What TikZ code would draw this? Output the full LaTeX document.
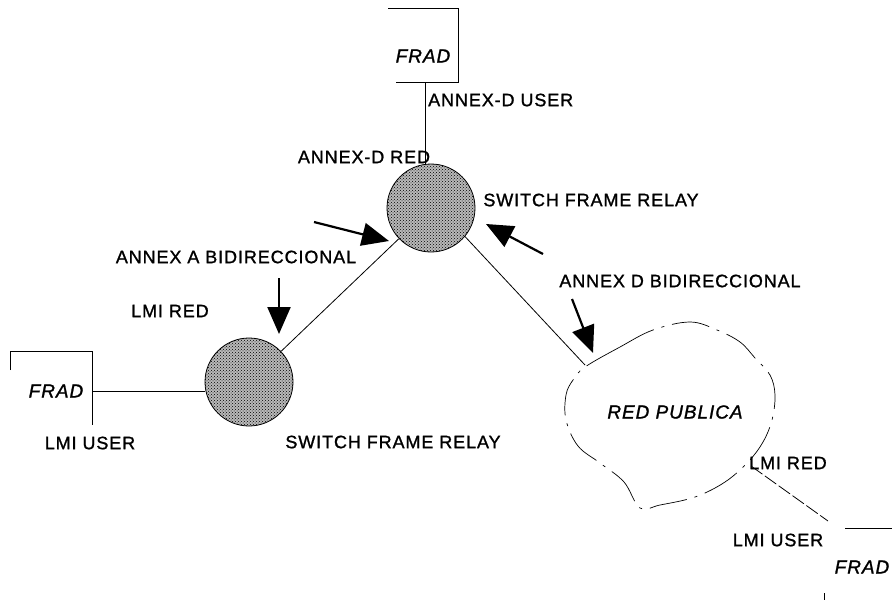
\documentclass[tikz,border=0pt]{standalone}
\usepackage{fontspec}
\setmainfont{Liberation Sans}[LetterSpace=5, FakeBold=1.2]
\usetikzlibrary{arrows.meta,patterns}
\tikzset{
  lbl/.style={font=\fontsize{18}{21}\selectfont, inner sep=0pt},
  fradtxt/.style={font=\fontsize{19}{22}\selectfont\itshape, inner sep=0pt},
  thin line/.style={line width=0.8pt},
  switchnode/.style={circle, draw, line width=0.8pt, minimum size=88pt, inner sep=0pt,
    preaction={fill=gray!55}, pattern=crosshatch dots},
  bigarrow/.style={line width=2.2pt, -{Triangle[length=27pt,width=23pt]}},
  cloudline/.style={line width=0.7pt, dash pattern=on 38pt off 8pt on 3pt off 8pt}
}
\begin{document}
\begin{tikzpicture}[x=1pt,y=-1pt]
\useasboundingbox (0,0) rectangle (892,600);

% switches
\node[switchnode] (sw1) at (431,208) {};
\node[switchnode] (sw2) at (249,382) {};

% FRAD at the top (left side left open)
\coordinate (ftTL) at (388,8);
\coordinate (ftTR) at (458,8);
\coordinate (ftBR) at (458,82);
\coordinate (ftBL) at (396,82);
\draw[thin line] (ftTL) -- (ftTR) -- (ftBR) -- (ftBL);
\node[fradtxt] (fradtop) at (423,56) {FRAD};
\coordinate (ftOut) at (425,82);

% FRAD on the left
\coordinate (flA) at (10,370);
\coordinate (flB) at (10,351);
\coordinate (flC) at (92,351);
\coordinate (flD) at (92,425);
\draw[thin line] (flA) -- (flB) -- (flC) -- (flD);
\node[fradtxt] (fradleft) at (56,391) {FRAD};
\coordinate (flOut) at (92,391);

% FRAD bottom right
\coordinate (frA) at (845,528);
\coordinate (frB) at (892,528);
\draw[thin line] (frA) -- (frB);
\draw[thin line] (824,593) -- (824,600);
\node[fradtxt] (fradright) at (862,567) {FRAD};
\coordinate (frIn) at (828,521);

% public network cloud
\draw[cloudline] plot[smooth cycle, tension=0.6] coordinates {
  (585,367) (620,347) (653,330) (690,322) (717,330) (740,342) (755,358)
  (770,375) (775,395) (772,420) (763,442) (748,462) (725,482) (695,497)
  (660,505) (640,508) (624,482) (600,463) (578,446) (566,420) (566,395)
  (573,380)};
\node[fradtxt] (redpub) at (675,412) {RED PUBLICA};
\coordinate (cloudIn) at (585,365);
\coordinate (cloudOut) at (751,466);

% links
\draw[thin line] (ftOut) -- (ftOut |- sw1.north);
\draw[thin line] (flOut) -- (sw2.west |- flOut);
\draw[thin line] (sw2) -- (sw1);
\draw[thin line] (sw1.-40) -- (cloudIn);
\draw[thin line, dash pattern=on 14pt off 3pt] (cloudOut) -- (frIn);

% arrows
\coordinate (a1t) at (314,222);
\coordinate (a1h) at (389,241);
\coordinate (a2t) at (279,278);
\coordinate (a2h) at (279,334);
\coordinate (a3t) at (543,254);
\coordinate (a3h) at (486,224);
\coordinate (a4t) at (572,299);
\coordinate (a4h) at (593,353);
\draw[bigarrow] (a1t) -- (a1h);
\draw[bigarrow] (a2t) -- (a2h);
\draw[bigarrow] (a3t) -- (a3h);
\draw[bigarrow] (a4t) -- (a4h);

% labels
\node[lbl, anchor=west] (l1) at (428,100) {ANNEX-D USER};
\node[lbl] (l2) at (364,157) {ANNEX-D RED};
\node[lbl] (l3) at (591,200) {SWITCH FRAME RELAY};
\node[lbl] (l4) at (236,257) {ANNEX A BIDIRECCIONAL};
\node[lbl] (l5) at (170,311) {LMI RED};
\node[lbl] (l6) at (680,281) {ANNEX D BIDIRECCIONAL};
\node[lbl] (l7) at (90,443) {LMI USER};
\node[lbl] (l8) at (393,442) {SWITCH FRAME RELAY};
\node[lbl] (l9) at (788,463) {LMI RED};
\node[lbl] (l10) at (778,540) {LMI USER};
\end{tikzpicture}
\end{document}
